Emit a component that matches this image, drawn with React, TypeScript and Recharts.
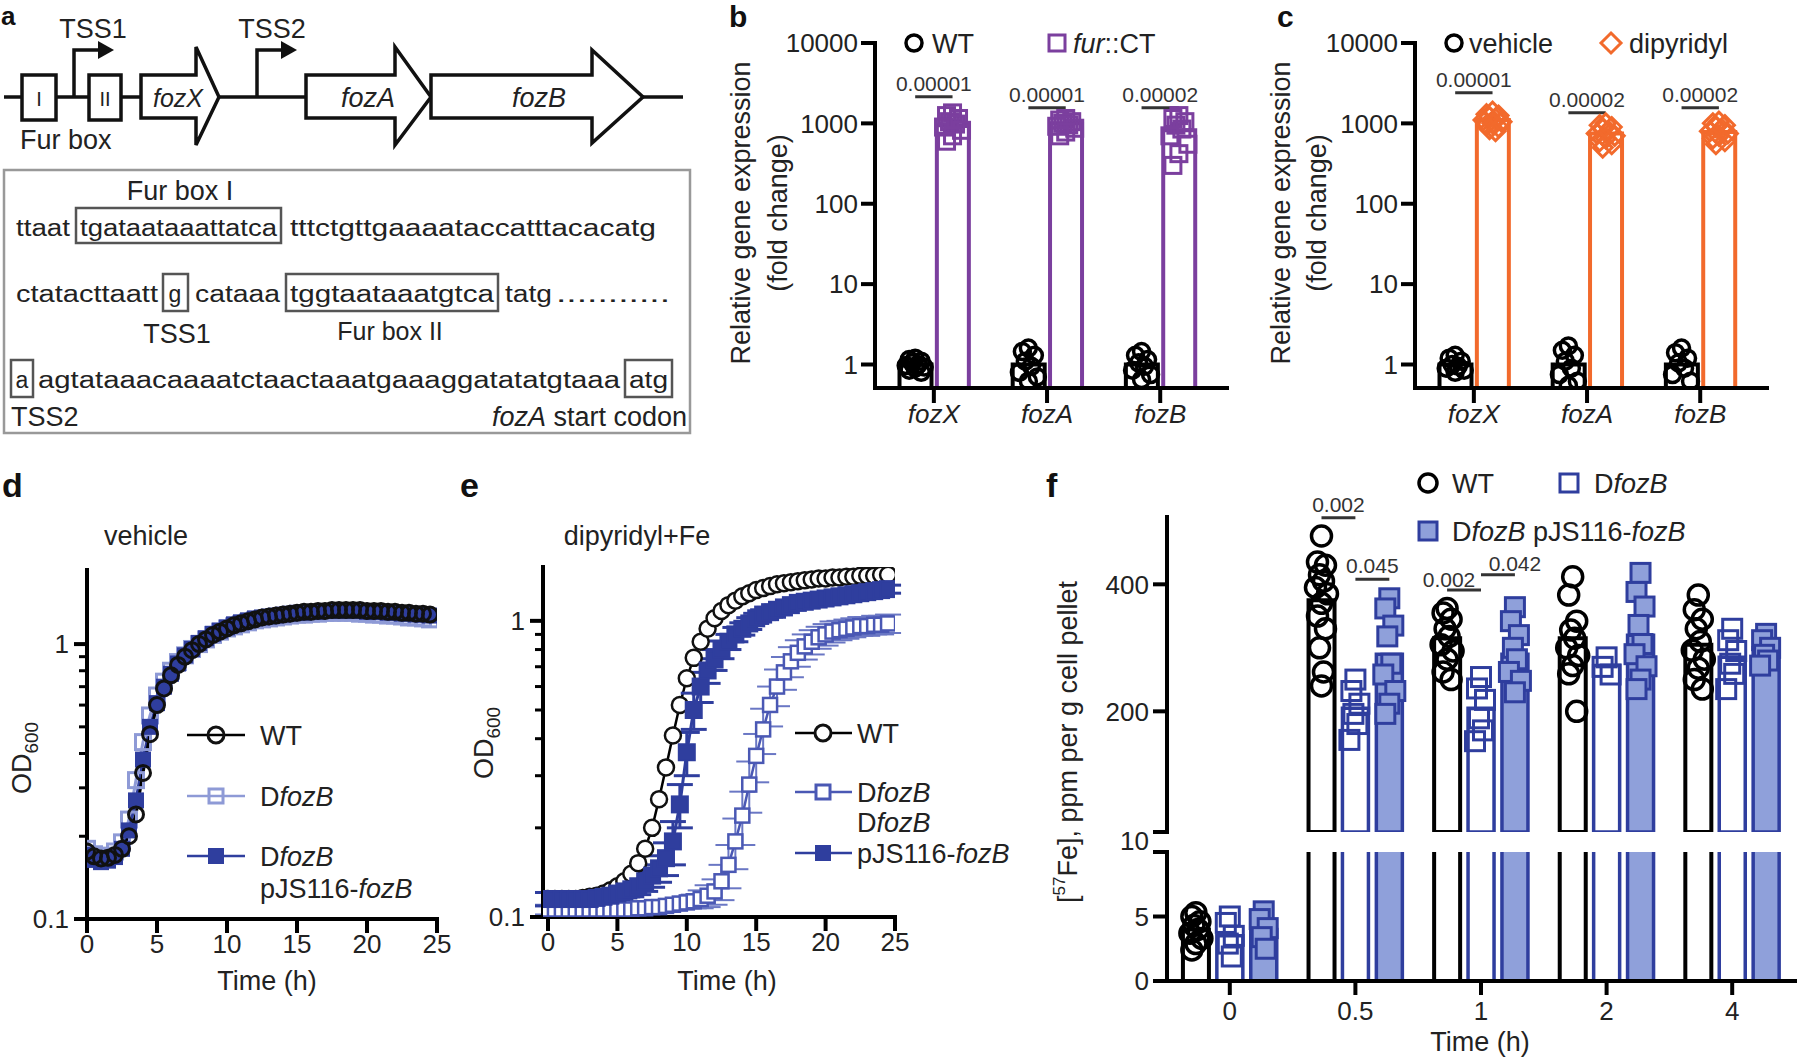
import React from "react";
import {
  ComposedChart,
  LineChart,
  Line,
  Bar,
  Scatter,
  XAxis,
  YAxis,
  Cell,
  ReferenceLine,
  ErrorBar,
} from "recharts";

// ---- data -------------------------------------------------------------

const genes = ["fozX", "fozA", "fozB"];

// panel b: WT vs fur::CT, fold change
const wtFoldB = [
  [1.2, 1.15, 1.1, 1.05, 1.0, 0.97, 0.93, 0.9, 0.85, 0.8],
  [1.6, 1.45, 1.3, 1.1, 0.95, 0.8, 0.7, 0.62],
  [1.45, 1.3, 1.15, 1.05, 0.95, 0.85, 0.75, 0.65],
];
const furCtFold = [
  [1350, 1250, 1150, 1050, 980, 900, 820, 700, 600],
  [1150, 1100, 1050, 1000, 960, 920, 870, 780, 700],
  [1250, 1150, 1050, 950, 850, 700, 550, 420, 300],
];
const wtMeanB = [1, 1, 1];
const furCtMean = [950, 1000, 820];
const pValsB = ["0.00001", "0.00001", "0.00002"];

// panel c: vehicle vs dipyridyl
const vehicleFold = [
  [1.3, 1.2, 1.1, 1.0, 0.95, 0.9, 0.85, 0.8],
  [1.7, 1.5, 1.3, 1.1, 0.9, 0.75, 0.62, 0.55],
  [1.6, 1.4, 1.2, 1.05, 0.9, 0.75, 0.62],
];
const dipyFold = [
  [1400, 1300, 1250, 1200, 1150, 1100, 1050, 1000, 950, 900, 850, 800],
  [1000, 950, 900, 850, 800, 750, 700, 650, 600, 550, 500],
  [1050, 1000, 950, 900, 850, 800, 750, 700, 650, 600, 550],
];
const vehicleMean = [1, 1, 1];
const dipyMean = [1100, 750, 780];
const pValsC = ["0.00001", "0.00002", "0.00002"];

// panels d, e: growth curves (OD600)
const hours = [
  0, 0.5, 1, 1.5, 2, 2.5, 3, 3.5, 4, 4.5, 5, 5.5, 6, 6.5, 7, 7.5, 8, 8.5, 9, 9.5,
  10, 10.5, 11, 11.5, 12, 12.5, 13, 13.5, 14, 14.5, 15, 15.5, 16, 16.5, 17, 17.5,
  18, 18.5, 19, 19.5, 20, 20.5, 21, 21.5, 22, 22.5, 23, 23.5, 24, 24.5,
];
const vehWT = [
  0.176, 0.169, 0.166, 0.167, 0.171, 0.18, 0.2, 0.24, 0.34, 0.47,
  0.6, 0.69, 0.77, 0.84, 0.9, 0.95, 1.0, 1.04, 1.08, 1.11,
  1.14, 1.17, 1.19, 1.21, 1.23, 1.25, 1.26, 1.27, 1.28, 1.29,
  1.3, 1.31, 1.31, 1.32, 1.32, 1.33, 1.33, 1.33, 1.33, 1.33,
  1.32, 1.32, 1.32, 1.31, 1.31, 1.3, 1.3, 1.29, 1.29, 1.28,
];
const vehKO = [
  0.18, 0.172, 0.168, 0.17, 0.176, 0.19, 0.23, 0.32, 0.44, 0.55,
  0.65, 0.73, 0.8, 0.86, 0.91, 0.96, 1.0, 1.04, 1.08, 1.11,
  1.14, 1.16, 1.18, 1.2, 1.22, 1.23, 1.24, 1.25, 1.26, 1.27,
  1.28, 1.28, 1.29, 1.29, 1.3, 1.3, 1.3, 1.3, 1.3, 1.29,
  1.29, 1.28, 1.28, 1.27, 1.27, 1.26, 1.25, 1.25, 1.24, 1.23,
];
const vehComp = [
  0.171, 0.164, 0.161, 0.163, 0.168, 0.18, 0.21, 0.27, 0.38, 0.5,
  0.61, 0.7, 0.78, 0.85, 0.91, 0.96, 1.01, 1.05, 1.09, 1.12,
  1.15, 1.18, 1.2, 1.22, 1.24, 1.25, 1.26, 1.27, 1.28, 1.29,
  1.3, 1.3, 1.31, 1.31, 1.32, 1.32, 1.32, 1.32, 1.32, 1.32,
  1.31, 1.31, 1.31, 1.3, 1.3, 1.29, 1.29, 1.28, 1.28, 1.27,
];
const dipWT = [
  0.115, 0.115, 0.115, 0.115, 0.115, 0.116, 0.117, 0.118, 0.12, 0.123,
  0.127, 0.132, 0.14, 0.152, 0.17, 0.2, 0.25, 0.32, 0.41, 0.52,
  0.64, 0.75, 0.85, 0.94, 1.02, 1.08, 1.13, 1.17, 1.21, 1.24,
  1.27, 1.29, 1.31, 1.33, 1.34, 1.35, 1.36, 1.37, 1.38, 1.39,
  1.39, 1.4, 1.4, 1.41, 1.41, 1.42, 1.42, 1.42, 1.43, 1.43,
];
const dipKO = [
  0.106, 0.106, 0.106, 0.106, 0.106, 0.106, 0.106, 0.106, 0.106, 0.106,
  0.106, 0.106, 0.106, 0.107, 0.107, 0.108, 0.108, 0.109, 0.11, 0.111,
  0.112, 0.113, 0.115, 0.118, 0.122, 0.132, 0.15, 0.18, 0.22, 0.28,
  0.35, 0.43, 0.52, 0.6, 0.67, 0.73, 0.78, 0.82, 0.85, 0.88,
  0.9, 0.92, 0.93, 0.94, 0.95, 0.96, 0.96, 0.97, 0.97, 0.98,
];
const dipKOsd = [
  0.004, 0.004, 0.004, 0.004, 0.004, 0.004, 0.004, 0.004, 0.004, 0.004,
  0.004, 0.004, 0.004, 0.004, 0.004, 0.004, 0.004, 0.004, 0.004, 0.004,
  0.005, 0.006, 0.008, 0.01, 0.012, 0.018, 0.025, 0.035, 0.045, 0.055,
  0.065, 0.075, 0.08, 0.085, 0.085, 0.085, 0.08, 0.08, 0.08, 0.075,
  0.075, 0.075, 0.07, 0.07, 0.07, 0.07, 0.07, 0.07, 0.07, 0.07,
];
const dipComp = [
  0.115, 0.115, 0.115, 0.115, 0.115, 0.115, 0.115, 0.116, 0.117, 0.118,
  0.12, 0.122, 0.124, 0.127, 0.132, 0.138, 0.146, 0.158, 0.18, 0.24,
  0.36, 0.5, 0.6, 0.68, 0.74, 0.8, 0.85, 0.9, 0.94, 0.98,
  1.02, 1.05, 1.07, 1.09, 1.11, 1.13, 1.15, 1.16, 1.17, 1.18,
  1.19, 1.2, 1.21, 1.22, 1.23, 1.24, 1.25, 1.26, 1.27, 1.28,
];
const dipCompSd = [
  0.006, 0.006, 0.006, 0.006, 0.006, 0.006, 0.006, 0.006, 0.006, 0.006,
  0.006, 0.006, 0.007, 0.008, 0.01, 0.012, 0.015, 0.02, 0.03, 0.04,
  0.06, 0.07, 0.07, 0.065, 0.06, 0.055, 0.05, 0.05, 0.045, 0.045,
  0.04, 0.04, 0.04, 0.04, 0.04, 0.04, 0.04, 0.04, 0.04, 0.04,
  0.04, 0.04, 0.04, 0.04, 0.04, 0.04, 0.04, 0.04, 0.04, 0.04,
];

// panel f: 57Fe uptake
const fTimes = ["0", "0.5", "1", "2", "4"];
const feWtMean = [4.0, 375, 315, 315, 305];
const feKoMean = [3.5, 205, 205, 272, 285];
const feCompMean = [4.0, 290, 290, 320, 300];
const feWtPts = [
  [5.3, 5.0, 4.6, 4.3, 4.0, 3.7, 3.3, 2.9, 2.4],
  [476, 435, 430, 415, 405, 395, 385, 370, 350, 330, 300, 262, 240],
  [362, 355, 345, 330, 318, 305, 295, 282, 262, 250],
  [412, 383, 342, 328, 315, 300, 288, 272, 259, 200],
  [383, 360, 345, 330, 310, 296, 282, 268, 250, 235],
];
const feKoPts = [
  [5.0, 4.5, 3.5, 2.9, 1.9],
  [250, 232, 212, 196, 180, 155],
  [254, 236, 218, 189, 170, 153],
  [285, 270, 258],
  [330, 312, 295, 275, 259, 235],
];
const feCompPts = [
  [5.4, 4.8, 4.1, 3.4, 2.5],
  [378, 362, 335, 318, 275, 258, 232, 212, 196],
  [364, 342, 320, 300, 282, 262, 248, 230],
  [418, 388, 365, 336, 306, 290, 271, 250, 235],
  [322, 312, 300, 289, 280, 272],
];

// ---- styles -----------------------------------------------------------

const FONT = "'Liberation Sans', Arial, Helvetica, sans-serif";
const TXT = "#222";
const PURPLE = "#7b3f9e";
const ORANGE = "#f26a2c";
const BLUE = "#2f3e9e";
const LIGHT_BLUE = "#8e9ad6";
const PALE = "#8fa0da";
const AX: any = { stroke: "#000", strokeWidth: 4, strokeLinecap: "square" };
const TICK: any = { fill: TXT, fontSize: 26, fontFamily: FONT };

const JIT = [0, -1, 1, -0.5, 0.5, -1.5, 1.5, 0, -1, 1, -0.5, 0.5, 0];

function marker(kind: string, stroke: string, fill: string, size: number, sw: number, spread: number) {
  return (p: any) => {
    if (p.cx == null || p.cy == null) return <g />;
    const k = p.payload && p.payload.k != null ? p.payload.k : 0;
    const cx = p.cx + JIT[k % JIT.length] * spread;
    const cy = p.cy;
    const h = size / 2;
    if (kind === "circle")
      return <circle cx={cx} cy={cy} r={h} fill={fill} stroke={stroke} strokeWidth={sw} />;
    if (kind === "diamond")
      return (
        <polygon
          points={`${cx},${cy - h} ${cx + h},${cy} ${cx},${cy + h} ${cx - h},${cy}`}
          fill={fill}
          stroke={stroke}
          strokeWidth={sw}
        />
      );
    return <rect x={cx - h} y={cy - h} width={size} height={size} fill={fill} stroke={stroke} strokeWidth={sw} />;
  };
}

function lineDot(kind: string, stroke: string, fill: string, size: number, sw: number) {
  return (p: any) => {
    if (p.cx == null || p.cy == null) return <g key={`n${p.index}`} />;
    const h = size / 2;
    if (kind === "circle")
      return <circle key={`c${p.index}`} cx={p.cx} cy={p.cy} r={h} fill={fill} stroke={stroke} strokeWidth={sw} />;
    return (
      <rect key={`s${p.index}`} x={p.cx - h} y={p.cy - h} width={size} height={size} fill={fill} stroke={stroke} strokeWidth={sw} />
    );
  };
}

const clusterPts = (sets: number[][], off: number) =>
  sets.flatMap((vals, gi) => vals.map((y, k) => ({ x: gi + off, y, k })));

function PLabel(props: any) {
  const { viewBox, text, dx = 0, dy = 0 } = props;
  if (!viewBox) return null;
  const cx = viewBox.x + (viewBox.width || 0) / 2 + dx;
  return (
    <text x={cx} y={viewBox.y - 6 + dy} textAnchor="middle" fill="#333" fontSize={21} fontFamily={FONT}>
      {text}
    </text>
  );
}

function LogTick(props: any) {
  const { x, y, payload } = props;
  const v = payload.value;
  const major = v === 0.1 || v === 1;
  return (
    <g>
      <line x1={x} x2={x - (major ? 13 : 8)} y1={y} y2={y} stroke="#000" strokeWidth={major ? 4 : 3} />
      {major && (
        <text x={x - 18} y={y} dy="0.36em" textAnchor="end" fill={TXT} fontSize={26} fontFamily={FONT}>
          {v === 0.1 ? "0.1" : "1"}
        </text>
      )}
    </g>
  );
}
const LOG_TICKS = [0.1, 0.2, 0.3, 0.4, 0.5, 0.6, 0.7, 0.8, 0.9, 1];

// ---- fold-change bar charts (b, c) -------------------------------------

const HALF = 0.165;

function FoldChart(props: any) {
  const { ctrlPts, trtPts, ctrlMean, trtMean, color, trtShape, pvals, pLevels } = props;
  const bars = genes.flatMap((_, i) => [
    { x: i - HALF, v: ctrlMean[i], g: 0 },
    { x: i + HALF, v: trtMean[i], g: 1 },
  ]);
  return (
    <ComposedChart width={520} height={440} data={bars} margin={{ top: 43, right: 13, bottom: 0, left: 0 }}>
      <XAxis
        dataKey="x"
        type="number"
        domain={[-0.52, 2.59]}
        ticks={[0, 1, 2]}
        interval={0}
        allowDataOverflow
        tickFormatter={(v: number) => genes[v]}
        height={52}
        axisLine={AX}
        tickLine={AX}
        tickSize={13}
        tickMargin={4}
        tick={{ ...TICK, fontStyle: "italic" }}
      />
      <YAxis
        type="number"
        scale="log"
        domain={[0.51, 10000]}
        ticks={[1, 10, 100, 1000, 10000]}
        interval={0}
        allowDataOverflow
        width={155}
        axisLine={AX}
        tickLine={AX}
        tickSize={12}
        tickMargin={5}
        tick={TICK}
      />
      <Bar dataKey="v" barSize={32} isAnimationActive={false}>
        {bars.map((b, i) => (
          <Cell key={i} fill="#fff" stroke={b.g ? color : "#000"} strokeWidth={4} />
        ))}
      </Bar>
      <Scatter
        data={clusterPts(ctrlPts, -HALF)}
        dataKey="y"
        shape={marker("circle", "#000", "none", 16, 3.5, 6)}
        isAnimationActive={false}
      />
      <Scatter
        data={clusterPts(trtPts, HALF)}
        dataKey="y"
        shape={marker(trtShape, color, "none", trtShape === "diamond" ? 19 : 16, 3, 6)}
        isAnimationActive={false}
      />
      {pvals.map((p: string, i: number) => (
        <ReferenceLine
          key={i}
          segment={[
            { x: i - HALF, y: pLevels[i] },
            { x: i + HALF, y: pLevels[i] },
          ]}
          stroke="#333"
          strokeWidth={3}
          ifOverflow="visible"
          label={<PLabel text={p} />}
        />
      ))}
    </ComposedChart>
  );
}

// ---- iron uptake (f) ---------------------------------------------------

const F_OFF = [-0.27, 0, 0.27];
const feBars = fTimes.flatMap((_, i) => [
  { x: i + F_OFF[0], v: feWtMean[i], g: 0 },
  { x: i + F_OFF[1], v: feKoMean[i], g: 1 },
  { x: i + F_OFF[2], v: feCompMean[i], g: 2 },
]);
// upper segment of the broken axis only shows bars that reach it
const feBarsHigh = feBars.map((b) => ({ ...b, v: b.v >= 10 ? b.v : null }));
const feSets = [
  { pts: clusterPts(feWtPts, F_OFF[0]), shape: marker("circle", "#000", "none", 20, 3.5, 4) },
  { pts: clusterPts(feKoPts, F_OFF[1]), shape: marker("square", BLUE, "none", 19, 3, 4) },
  { pts: clusterPts(feCompPts, F_OFF[2]), shape: marker("square", BLUE, PALE, 19, 3, 4) },
];
const barStyle = (g: number) =>
  g === 0
    ? { fill: "#fff", stroke: "#000", strokeWidth: 4 }
    : g === 1
    ? { fill: "#fff", stroke: BLUE, strokeWidth: 3.5 }
    : { fill: PALE, stroke: BLUE, strokeWidth: 3.5 };

function FeTick(props: any) {
  const { x, y, payload, segment } = props;
  const v = payload.value;
  if (segment === "low" && v === 10) return <g />;
  return (
    <text x={x} y={segment === "high" && v === 10 ? y + 9 : y} dy="0.36em" textAnchor="end" fill={TXT} fontSize={26} fontFamily={FONT}>
      {v}
    </text>
  );
}

function FeTop() {
  return (
    <ComposedChart width={760} height={380} data={feBarsHigh} margin={{ top: 37, right: 5, bottom: 28, left: 0 }}>
      <XAxis dataKey="x" type="number" domain={[-0.5, 4.5]} hide allowDataOverflow />
      <YAxis
        type="number"
        domain={[10, 506]}
        ticks={[10, 200, 400]}
        interval={0}
        allowDataOverflow
        width={127}
        axisLine={AX}
        tickLine={AX}
        tickSize={12}
        tickMargin={6}
        tick={<FeTick segment="high" />}
      />
      <Bar dataKey="v" barSize={26} isAnimationActive={false}>
        {feBarsHigh.map((b, i) => (
          <Cell key={i} {...barStyle(b.g)} />
        ))}
      </Bar>
      {feSets.map((s, i) => (
        <Scatter key={i} data={s.pts.filter((p) => p.y >= 10)} dataKey="y" shape={s.shape} isAnimationActive={false} />
      ))}
      <ReferenceLine segment={[{ x: 0.73, y: 505 }, { x: 1, y: 505 }]} stroke="#333" strokeWidth={3} ifOverflow="visible" label={<PLabel text="0.002" />} />
      <ReferenceLine segment={[{ x: 1, y: 408 }, { x: 1.27, y: 408 }]} stroke="#333" strokeWidth={3} ifOverflow="visible" label={<PLabel text="0.045" />} />
      <ReferenceLine segment={[{ x: 1.73, y: 391 }, { x: 2, y: 391 }]} stroke="#333" strokeWidth={3} ifOverflow="visible" label={<PLabel text="0.002" dx={-15} dy={3} />} />
      <ReferenceLine segment={[{ x: 2, y: 415 }, { x: 2.27, y: 415 }]} stroke="#333" strokeWidth={3} ifOverflow="visible" label={<PLabel text="0.042" dx={17} dy={2} />} />
    </ComposedChart>
  );
}

function FeLow() {
  return (
    <ComposedChart width={760} height={190} data={feBars} margin={{ top: 4, right: 5, bottom: 0, left: 0 }}>
      <XAxis
        dataKey="x"
        type="number"
        domain={[-0.5, 4.5]}
        ticks={[0, 1, 2, 3, 4]}
        interval={0}
        allowDataOverflow
        tickFormatter={(v: number) => fTimes[v]}
        height={57}
        axisLine={AX}
        tickLine={AX}
        tickSize={12}
        tickMargin={9}
        tick={TICK}
      />
      <YAxis
        type="number"
        domain={[0, 10]}
        ticks={[0, 5, 10]}
        interval={0}
        allowDataOverflow
        width={127}
        axisLine={AX}
        tickLine={AX}
        tickSize={12}
        tickMargin={6}
        tick={<FeTick segment="low" />}
      />
      <Bar dataKey="v" barSize={26} isAnimationActive={false}>
        {feBars.map((b, i) => (
          <Cell key={i} {...barStyle(b.g)} />
        ))}
      </Bar>
      {feSets.map((s, i) => (
        <Scatter key={i} data={s.pts.filter((p) => p.y < 10)} dataKey="y" shape={s.shape} isAnimationActive={false} />
      ))}
    </ComposedChart>
  );
}

// ---- growth curves (d, e) ----------------------------------------------

const vehRows = hours.map((t, i) => ({ t, wt: vehWT[i], ko: vehKO[i], comp: vehComp[i] }));
const dipRows = hours.map((t, i) => ({
  t,
  wt: dipWT[i],
  ko: dipKO[i],
  koSd: dipKOsd[i],
  comp: dipComp[i],
  compSd: dipCompSd[i],
}));

function VehicleGrowth() {
  return (
    <LineChart width={470} height={540} data={vehRows} margin={{ top: 100, right: 33, bottom: 41, left: 0 }}>
      <XAxis dataKey="t" type="number" domain={[0, 25]} ticks={[0, 5, 10, 15, 20, 25]} interval={0} allowDataOverflow height={50} axisLine={AX} tickLine={AX} tickSize={12} tickMargin={4} tick={TICK} />
      <YAxis type="number" scale="log" domain={[0.1, 1.86]} ticks={LOG_TICKS} interval={0} allowDataOverflow width={87} axisLine={AX} tickLine={false} tickSize={0} tickMargin={0} tick={<LogTick />} />
      <Line dataKey="ko" stroke={LIGHT_BLUE} strokeWidth={3} dot={lineDot("square", LIGHT_BLUE, "none", 15, 3)} activeDot={false} isAnimationActive={false} />
      <Line dataKey="comp" stroke={BLUE} strokeWidth={3} dot={lineDot("square", BLUE, BLUE, 14, 2)} activeDot={false} isAnimationActive={false} />
      <Line dataKey="wt" stroke="#000" strokeWidth={3} dot={lineDot("circle", "#111", "none", 15, 3)} activeDot={false} isAnimationActive={false} />
    </LineChart>
  );
}

function DipyGrowth() {
  return (
    <LineChart width={460} height={540} data={dipRows} margin={{ top: 97, right: 25, bottom: 43, left: 0 }}>
      <XAxis dataKey="t" type="number" domain={[-0.36, 25]} ticks={[0, 5, 10, 15, 20, 25]} interval={0} allowDataOverflow height={50} axisLine={AX} tickLine={AX} tickSize={12} tickMargin={4} tick={TICK} />
      <YAxis type="number" scale="log" domain={[0.1, 1.52]} ticks={LOG_TICKS} interval={0} allowDataOverflow width={83} axisLine={AX} tickLine={false} tickSize={0} tickMargin={0} tick={<LogTick />} />
      <Line dataKey="wt" stroke="#000" strokeWidth={2.5} dot={lineDot("circle", "#111", "#fff", 16, 2.5)} activeDot={false} isAnimationActive={false} />
      <Line dataKey="ko" stroke="#4a58b4" strokeWidth={2.5} dot={lineDot("square", "#4a58b4", "#fff", 14, 2.5)} activeDot={false} isAnimationActive={false}>
        <ErrorBar dataKey="koSd" width={13} strokeWidth={2} stroke="#6a77c4" direction="y" isAnimationActive={false} />
      </Line>
      <Line dataKey="comp" stroke={BLUE} strokeWidth={3} dot={lineDot("square", BLUE, BLUE, 16, 2)} activeDot={false} isAnimationActive={false}>
        <ErrorBar dataKey="compSd" width={13} strokeWidth={3} stroke={BLUE} direction="y" isAnimationActive={false} />
      </Line>
    </LineChart>
  );
}

// ---- page --------------------------------------------------------------

const It = ({ children }: any) => <tspan fontStyle="italic">{children}</tspan>;

function Overlay() {
  const t = { fill: TXT, fontFamily: FONT, fontSize: 27 } as any;
  const seq = { fill: TXT, fontFamily: FONT, fontSize: 23, lengthAdjust: "spacingAndGlyphs" } as any;
  return (
    <svg width={1800} height={1064} style={{ position: "absolute", left: 0, top: 0, pointerEvents: "none" }}>
      {/* panel letters */}
      <g fontFamily={FONT} fontWeight="bold" fill="#111">
        <text x={1} y={25} fontSize={26}>a</text>
        <text x={729} y={27} fontSize={30}>b</text>
        <text x={1277} y={27} fontSize={30}>c</text>
        <text x={2} y={497} fontSize={34}>d</text>
        <text x={460} y={497} fontSize={34}>e</text>
        <text x={1046} y={497} fontSize={34}>f</text>
      </g>

      {/* panel a: operon diagram */}
      <g stroke="#111" strokeWidth={3.5} fill="#fff">
        <line x1={4} y1={97} x2={683} y2={97} />
        <rect x={22} y={75} width={34} height={45} />
        <rect x={89} y={75} width={32} height={45} />
        <polygon points="141,75 196,75 196,47 219,97 196,145 196,118 141,118" />
        <polygon points="306,75 395,75 395,47 431,97 395,145 395,118 306,118" />
        <polygon points="431,75 592,75 592,50 643,97 592,143 592,118 431,118" />
        <polyline points="74,97 74,50 100,50" fill="none" />
        <polyline points="257,97 257,50 283,50" fill="none" />
      </g>
      <polygon points="98,41 114,50 98,59" fill="#111" />
      <polygon points="281,41 297,50 281,59" fill="#111" />
      <text {...t} x={93} y={38} textAnchor="middle">TSS1</text>
      <text {...t} x={272} y={38} textAnchor="middle">TSS2</text>
      <text {...t} x={39} y={106} fontSize={20} textAnchor="middle">I</text>
      <text {...t} x={105} y={106} fontSize={20} textAnchor="middle">II</text>
      <text {...t} x={20} y={149}>Fur box</text>
      <text {...t} x={178} y={107} fontSize={25} textAnchor="middle" fontStyle="italic">fozX</text>
      <text {...t} x={368} y={107} textAnchor="middle" fontStyle="italic">fozA</text>
      <text {...t} x={539} y={107} textAnchor="middle" fontStyle="italic">fozB</text>

      {/* panel a: sequence box */}
      <rect x={4} y={170} width={686} height={263} fill="none" stroke="#999" strokeWidth={2.5} />
      <g fill="none" stroke="#555" strokeWidth={2.5}>
        <rect x={76} y={208} width={205} height={35} />
        <rect x={163} y={274} width={25} height={37} />
        <rect x={286} y={274} width={212} height={37} />
        <rect x={11} y={360} width={22} height={37} />
        <rect x={625} y={360} width={47} height={37} />
      </g>
      <text {...t} x={180} y={200} textAnchor="middle">Fur box I</text>
      <text {...seq} x={16} y={236} textLength={54}>ttaat</text>
      <text {...seq} x={80} y={236} textLength={197}>tgataataaattatca</text>
      <text {...seq} x={290} y={236} textLength={366}>tttctgttgaaaataccatttacacatg</text>
      <text {...seq} x={16} y={302} textLength={142}>ctatacttaatt</text>
      <text {...seq} x={175} y={302} textAnchor="middle">g</text>
      <text {...seq} x={195} y={302} textLength={85}>cataaa</text>
      <text {...seq} x={290} y={302} textLength={204}>tggtaataaatgtca</text>
      <text {...seq} x={505} y={302} textLength={47}>tatg</text>
      <text {...seq} x={556} y={302} textLength={114}>...........</text>
      <text {...t} x={177} y={343} textAnchor="middle">TSS1</text>
      <text {...t} x={390} y={340} fontSize={25} textAnchor="middle">Fur box II</text>
      <text {...seq} x={22} y={388} textAnchor="middle">a</text>
      <text {...seq} x={38} y={388} textLength={582}>agtataaacaaaatctaactaaatgaaaggatatatgtaaa</text>
      <text {...seq} x={629} y={388} textLength={39}>atg</text>
      <text {...t} x={11} y={426}>TSS2</text>
      <text {...t} x={687} y={426} textAnchor="end">
        <It>fozA</It> start codon
      </text>

      {/* panel b labels and legend */}
      <text {...t} transform="translate(741,213) rotate(-90)" textAnchor="middle" dominantBaseline="central">Relative gene expression</text>
      <text {...t} transform="translate(778,213) rotate(-90)" textAnchor="middle" dominantBaseline="central">(fold change)</text>
      <circle cx={914} cy={43} r={8} fill="none" stroke="#000" strokeWidth={3.5} />
      <text {...t} x={932} y={53}>WT</text>
      <rect x={1049} y={35} width={16} height={16} fill="none" stroke={PURPLE} strokeWidth={3} />
      <text {...t} x={1073} y={53}>
        <It>fur</It>::CT
      </text>

      {/* panel c labels and legend */}
      <text {...t} transform="translate(1281,213) rotate(-90)" textAnchor="middle" dominantBaseline="central">Relative gene expression</text>
      <text {...t} transform="translate(1317,213) rotate(-90)" textAnchor="middle" dominantBaseline="central">(fold change)</text>
      <circle cx={1454} cy={43} r={8} fill="none" stroke="#000" strokeWidth={3.5} />
      <text {...t} x={1469} y={53}>vehicle</text>
      <polygon points="1611,33 1621,43 1611,53 1601,43" fill="none" stroke={ORANGE} strokeWidth={3} />
      <text {...t} x={1629} y={53}>dipyridyl</text>

      {/* panel d */}
      <text {...t} x={146} y={536} textAnchor="middle" dominantBaseline="central">vehicle</text>
      <text {...t} transform="translate(22,758) rotate(-90)" textAnchor="middle" dominantBaseline="central">
        OD<tspan fontSize={19} dy={9}>600</tspan>
      </text>
      <text {...t} x={267} y={981} textAnchor="middle" dominantBaseline="central">Time (h)</text>
      <line x1={187} x2={245} y1={735} y2={735} stroke="#000" strokeWidth={2.5} />
      <circle cx={216} cy={735} r={8} fill="none" stroke="#111" strokeWidth={3} />
      <text {...t} x={260} y={745}>WT</text>
      <line x1={187} x2={245} y1={796} y2={796} stroke={LIGHT_BLUE} strokeWidth={2.5} />
      <rect x={209} y={789} width={14} height={14} fill="none" stroke={LIGHT_BLUE} strokeWidth={3} />
      <text {...t} x={260} y={806}>
        D<It>fozB</It>
      </text>
      <line x1={187} x2={245} y1={856} y2={856} stroke={BLUE} strokeWidth={2.5} />
      <rect x={209} y={849} width={14} height={14} fill={BLUE} stroke={BLUE} strokeWidth={2} />
      <text {...t} x={260} y={866}>
        D<It>fozB</It>
      </text>
      <text {...t} x={260} y={898}>
        pJS116-<It>fozB</It>
      </text>

      {/* panel e */}
      <text {...t} x={637} y={536} textAnchor="middle" dominantBaseline="central">dipyridyl+Fe</text>
      <text {...t} transform="translate(484,743) rotate(-90)" textAnchor="middle" dominantBaseline="central">
        OD<tspan fontSize={19} dy={9}>600</tspan>
      </text>
      <text {...t} x={727} y={981} textAnchor="middle" dominantBaseline="central">Time (h)</text>
      <line x1={795} x2={852} y1={733} y2={733} stroke="#000" strokeWidth={2.5} />
      <circle cx={823} cy={733} r={8} fill="#fff" stroke="#111" strokeWidth={3} />
      <text {...t} x={857} y={743}>WT</text>
      <line x1={795} x2={852} y1={792} y2={792} stroke="#4a58b4" strokeWidth={2.5} />
      <rect x={816} y={785} width={14} height={14} fill="#fff" stroke="#4a58b4" strokeWidth={3} />
      <text {...t} x={857} y={802}>
        D<It>fozB</It>
      </text>
      <text {...t} x={857} y={832}>
        D<It>fozB</It>
      </text>
      <line x1={795} x2={852} y1={853} y2={853} stroke={BLUE} strokeWidth={2.5} />
      <rect x={816} y={846} width={14} height={14} fill={BLUE} stroke={BLUE} strokeWidth={2} />
      <text {...t} x={857} y={863}>
        pJS116-<It>fozB</It>
      </text>

      {/* panel f */}
      <text {...t} transform="translate(1068,742) rotate(-90)" textAnchor="middle" dominantBaseline="central">
        [<tspan fontSize={17} dy={-9}>57</tspan>
        <tspan dy={9}>Fe], ppm per g cell pellet</tspan>
      </text>
      <text {...t} x={1480} y={1042} textAnchor="middle" dominantBaseline="central">Time (h)</text>
      <circle cx={1428} cy={483} r={9} fill="none" stroke="#000" strokeWidth={3.5} />
      <text {...t} x={1452} y={493}>WT</text>
      <rect x={1560} y={474} width={18} height={18} fill="none" stroke={BLUE} strokeWidth={3} />
      <text {...t} x={1594} y={493}>
        D<It>fozB</It>
      </text>
      <rect x={1419} y={522} width={18} height={18} fill={PALE} stroke={BLUE} strokeWidth={3} />
      <text {...t} x={1452} y={541}>
        D<It>fozB</It> pJS116-<It>fozB</It>
      </text>
    </svg>
  );
}

export default function App() {
  return (
    <div style={{ position: "absolute", left: 0, top: 0, width: 1800, height: 1064, background: "#fff", overflow: "hidden" }}>
      <div style={{ position: "absolute", left: 720, top: 0 }}>
        <FoldChart
          ctrlPts={wtFoldB}
          trtPts={furCtFold}
          ctrlMean={wtMeanB}
          trtMean={furCtMean}
          color={PURPLE}
          trtShape="square"
          pvals={pValsB}
          pLevels={[2150, 1570, 1570]}
        />
      </div>
      <div style={{ position: "absolute", left: 1260, top: 0 }}>
        <FoldChart
          ctrlPts={vehicleFold}
          trtPts={dipyFold}
          ctrlMean={vehicleMean}
          trtMean={dipyMean}
          color={ORANGE}
          trtShape="diamond"
          pvals={pValsC}
          pLevels={[2400, 1360, 1570]}
        />
      </div>
      <div style={{ position: "absolute", left: 0, top: 470 }}>
        <VehicleGrowth />
      </div>
      <div style={{ position: "absolute", left: 460, top: 470 }}>
        <DipyGrowth />
      </div>
      <div style={{ position: "absolute", left: 1040, top: 480 }}>
        <FeTop />
      </div>
      <div style={{ position: "absolute", left: 1040, top: 848 }}>
        <FeLow />
      </div>
      <Overlay />
    </div>
  );
}
